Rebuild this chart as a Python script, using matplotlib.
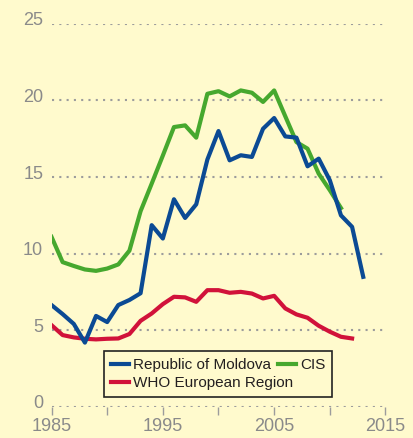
import numpy as np
import matplotlib.pyplot as plt
from matplotlib import transforms

# data
moldova_years = list(range(1985, 2014))
moldova = [6.65, 6.06, 5.42, 4.2, 5.94, 5.54, 6.65, 6.98, 7.42, 11.86, 10.99,
           13.55, 12.33, 13.22, 16.14, 18.0, 16.09, 16.42, 16.31, 18.15, 18.85,
           17.65, 17.57, 15.7, 16.2, 14.79, 12.5, 11.75, 8.49]

cis_years = list(range(1985, 2012))
cis = [11.1, 9.45, 9.2, 8.97, 8.88, 9.03, 9.3, 10.2, 12.77, 14.57, 16.4,
       18.26, 18.37, 17.57, 20.43, 20.6, 20.26, 20.65, 20.5, 19.9, 20.65,
       18.96, 17.28, 16.85, 15.22, 14.14, 12.98]

who_years = list(range(1985, 2013))
who = [5.34, 4.69, 4.54, 4.45, 4.41, 4.45, 4.47, 4.76, 5.62, 6.1, 6.71,
       7.19, 7.15, 6.86, 7.62, 7.62, 7.45, 7.51, 7.4, 7.08, 7.25, 6.43,
       6.04, 5.82, 5.3, 4.91, 4.58, 4.47]

yticks = [0, 5, 10, 15, 20, 25]
xticks = [1985, 1995, 2005, 2015]
xminor = [1990, 2000, 2010]

bg = '#fffacd'
plt.rcParams['font.family'] = ['Liberation Sans', 'DejaVu Sans']


def main():
    fig = plt.figure(figsize=(4.13, 4.38), dpi=100, facecolor=bg)
    ax = fig.add_axes([0.1247, 0.0708, 0.8087, 0.875], facecolor=bg)

    ax.plot(moldova_years, moldova, color='#0b4a94', lw=3, label='Republic of Moldova', zorder=3)
    ax.plot(who_years, who, color='#d1123a', lw=3, label='WHO European Region')
    ax.plot(cis_years, cis, color='#46a82e', lw=3, label='CIS')

    ax.set_xlim(1985, 2015)
    ax.set_ylim(0, 25)
    ax.set_xticks(xticks)
    ax.set_xticks(xminor, minor=True)
    ax.set_yticks(yticks)
    for s in ax.spines.values():
        s.set_visible(False)

    ax.grid(axis='y', color='#9c9c9c', lw=1.5, linestyle=(0, (1, 2.5)))
    ax.set_axisbelow(True)
    ax.tick_params(axis='y', length=0, pad=6, labelsize=13, labelcolor='#8a8a8a')
    ax.tick_params(axis='x', which='both', length=6, width=1, color='#9c9c9c',
                   direction='out', pad=2, labelsize=13, labelcolor='#8a8a8a')
    off = transforms.ScaledTranslation(0, 5 / 100, fig.dpi_scale_trans)
    for lab in ax.get_yticklabels():
        lab.set_transform(lab.get_transform() + off)

    leg = ax.legend(ncol=2, loc='lower left', bbox_to_anchor=(0.2518, 0.0936),
                    bbox_transform=fig.transFigure, fontsize=11, frameon=True,
                    fancybox=False, edgecolor='#222222', facecolor=bg,
                    handlelength=1.2, handletextpad=0.25, columnspacing=-1.0,
                    labelspacing=0.25, borderpad=0.45, borderaxespad=0)
    leg.get_frame().set_linewidth(1.2)
    leg.get_frame().set_alpha(1)
    for t in leg.get_texts():
        t.set_color('#231f20')

    fig.savefig('out.png', dpi=100, facecolor=bg)


if __name__ == "__main__":
    main()
